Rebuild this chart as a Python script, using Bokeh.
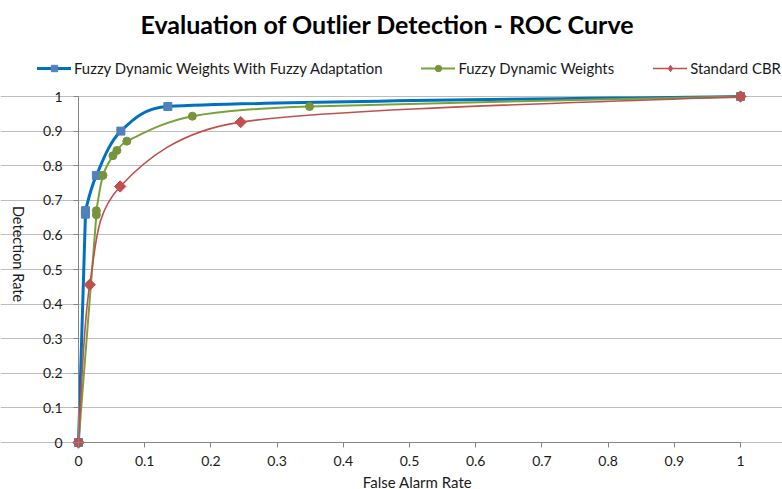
import math
import numpy as np
from bokeh.plotting import figure
from bokeh.models import Range1d, FixedTicker, Label, Legend, LegendItem, ColumnDataSource
from bokeh.embed import file_html
from bokeh.resources import INLINE

# ---------------- data ----------------
series_names = ["Fuzzy Dynamic Weights With Fuzzy Adaptation",
                "Fuzzy Dynamic Weights",
                "Standard CBR"]

blue_x = [0.0, 0.0105, 0.0105, 0.027, 0.064, 0.135, 1.0]
blue_y = [0.0, 0.660, 0.670, 0.772, 0.900, 0.971, 1.0]

green_x = [0.0, 0.027, 0.027, 0.037, 0.052, 0.058, 0.073, 0.172, 0.349, 1.0]
green_y = [0.0, 0.658, 0.670, 0.772, 0.829, 0.844, 0.871, 0.943, 0.971, 1.0]

red_x = [0.0, 0.017, 0.063, 0.245, 1.0]
red_y = [0.0, 0.456, 0.740, 0.926, 1.0]

tick_values = [0.0, 0.1, 0.2, 0.3, 0.4, 0.5, 0.6, 0.7, 0.8, 0.9, 1.0]
tick_labels = ["0", "0.1", "0.2", "0.3", "0.4", "0.5", "0.6", "0.7", "0.8", "0.9", "1"]

title_text = "Evaluation of Outlier Detection - ROC Curve"
x_title = "False Alarm Rate"
y_title = "Detection Rate"

# ---------------- layout / styling ----------------
FONT = "Lato"
W, H = 782, 489
X0_PX, X1_PX = 78.0, 740.0      # canvas pixel of x = 0 and x = 1
Y0_PX, Y1_PX = 442.0, 96.0      # canvas pixel of y = 0 and y = 1
PX_X = X1_PX - X0_PX
PX_Y = Y0_PX - Y1_PX


def dx(px):   # canvas pixel -> data x
    return (px - X0_PX) / PX_X


def dy(py):   # canvas pixel -> data y
    return (Y0_PX - py) / PX_Y


def smooth_segments(xs, ys):
    """Excel-like smoothed line: cubic Bezier segments (Catmull-Rom handles,
    clamped so that near-coincident points do not loop)."""
    px = np.asarray(xs, float) * PX_X
    py = np.asarray(ys, float) * PX_Y
    n = len(px)
    out = dict(x0=[], y0=[], x1=[], y1=[], cx0=[], cy0=[], cx1=[], cy1=[])

    def tangent(i):
        a = max(i - 1, 0)
        b = min(i + 1, n - 1)
        return (px[b] - px[a]) / 6.0, (py[b] - py[a]) / 6.0

    for i in range(n - 1):
        seg = math.hypot(px[i + 1] - px[i], py[i + 1] - py[i])
        t0x, t0y = tangent(i)
        t1x, t1y = tangent(i + 1)
        l0 = math.hypot(t0x, t0y)
        l1 = math.hypot(t1x, t1y)
        lim = 0.45 * seg
        if l0 > lim and l0 > 0:
            t0x, t0y = t0x * lim / l0, t0y * lim / l0
        if l1 > lim and l1 > 0:
            t1x, t1y = t1x * lim / l1, t1y * lim / l1
        out["x0"].append(px[i] / PX_X)
        out["y0"].append(py[i] / PX_Y)
        out["x1"].append(px[i + 1] / PX_X)
        out["y1"].append(py[i + 1] / PX_Y)
        out["cx0"].append((px[i] + t0x) / PX_X)
        out["cy0"].append((py[i] + t0y) / PX_Y)
        out["cx1"].append((px[i + 1] - t1x) / PX_X)
        out["cy1"].append((py[i + 1] - t1y) / PX_Y)
    return ColumnDataSource(out)


p = figure(width=W, height=H,
           x_range=Range1d(dx(0), dx(W)), y_range=Range1d(dy(H), dy(0)),
           output_backend="svg", toolbar_location=None,
           min_border_left=0, min_border_right=0,
           min_border_top=0, min_border_bottom=0)
p.outline_line_color = None
p.background_fill_color = "white"
p.border_fill_color = "white"

# grid
p.xgrid.grid_line_color = None
p.ygrid.grid_line_color = "#bdbdbd"
p.ygrid.grid_line_width = 1
p.ygrid.bounds = (0, 1)
p.ygrid.ticker = FixedTicker(ticks=tick_values)

# axes (drawn at x = 0 / y = 0)
for ax in (p.xaxis[0], p.yaxis[0]):
    ax.ticker = FixedTicker(ticks=tick_values)
    ax.major_label_overrides = {v: s for v, s in zip(tick_values, tick_labels)}
    ax.fixed_location = 0
    ax.bounds = (0, 1)
    ax.axis_line_color = "#868686"
    ax.major_tick_line_color = "#868686"
    ax.major_tick_out = 5
    ax.major_tick_in = 0
    ax.minor_tick_line_color = None
    ax.major_label_text_font = FONT
    ax.major_label_text_font_size = "14px"
    ax.major_label_text_color = "#1a1a1a"
p.xaxis.major_label_standoff = 8
p.yaxis.major_label_standoff = 11

# series
styles = [
    (blue_x, blue_y, "#0070C0", 3.0, "square", 8, "#4F81BD", 0.0, None, 0),
    (green_x, green_y, "#77A33B", 2.0, "circle", 8, "#77933C", 0.0, None, 0),
    (red_x, red_y, "#C0504D", 1.6, "square", 8, "#C0504D", math.pi / 4, "diamond", 11),
]
items = []
for (xs, ys, lc, lw, mk, ms, mc, ang, lmk, lms), name in zip(styles, series_names):
    src = smooth_segments(xs, ys)
    r_line = p.bezier(x0="x0", y0="y0", x1="x1", y1="y1",
                      cx0="cx0", cy0="cy0", cx1="cx1", cy1="cy1",
                      source=src, line_color=lc, line_width=lw, line_cap="round")
    r_pts = p.scatter(xs, ys, marker=mk, size=ms, angle=ang,
                      fill_color=mc, line_color=mc)
    if lmk is None:
        key = r_pts
    else:
        # legend-only swatch (a diamond key; the swatch has no data point)
        key = p.scatter(x=[float("nan")], y=[float("nan")], marker=lmk, size=lms,
                        fill_color=mc, line_color=mc)
    items.append(LegendItem(label=name, renderers=[r_line, key]))

legend = Legend(items=items, orientation="horizontal",
                location=(37, H - 77), margin=0, padding=0,
                spacing=39, glyph_width=34, glyph_height=16,
                label_standoff=3, label_height=16,
                label_text_font=FONT, label_text_font_size="14.9px",
                label_text_color="#1a1a1a",
                border_line_color=None, background_fill_alpha=0)
p.add_layout(legend, "center")

# title and axis titles
p.add_layout(Label(x=dx(387), y=dy(23.5), text=title_text,
                   text_align="center", text_baseline="middle",
                   text_font=FONT, text_font_style="bold",
                   text_font_size="25px", text_color="#000000"))
p.add_layout(Label(x=dx(417), y=dy(481), text=x_title,
                   text_align="center", text_baseline="middle",
                   text_font=FONT, text_font_size="15px", text_color="#1a1a1a"))
p.add_layout(Label(x=dx(17.5), y=dy(253.5), text=y_title,
                   angle=-math.pi / 2, text_align="center", text_baseline="middle",
                   text_font=FONT, text_font_size="14.5px", text_color="#1a1a1a"))

open("out.html", "w").write(file_html(p, INLINE))
